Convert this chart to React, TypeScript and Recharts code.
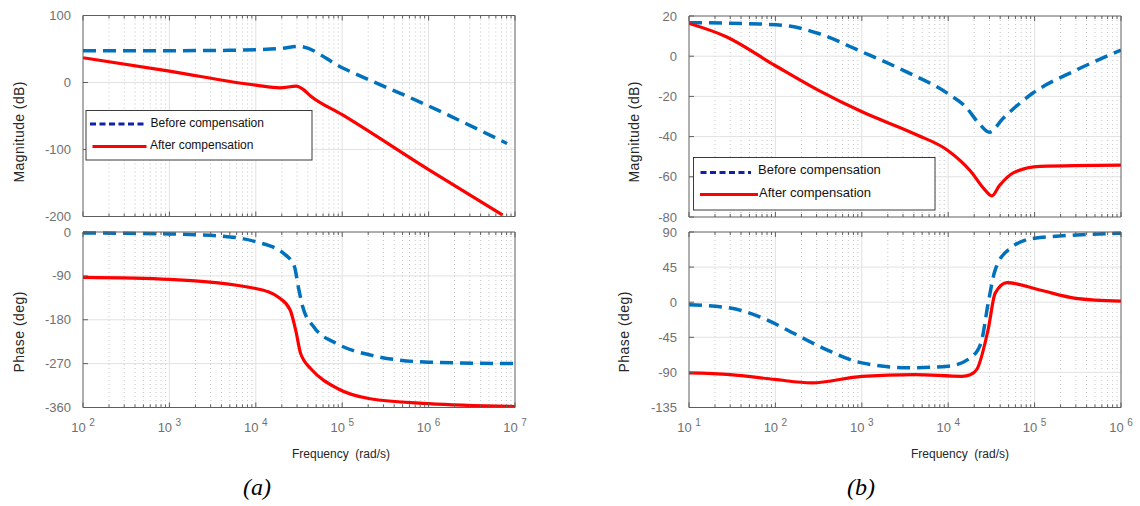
import React from "react";
import { LineChart, Line, XAxis, YAxis, CartesianGrid } from "recharts";

const W = 1140;
const H = 506;

const BLUE = "#0072BD";
const RED = "#FF0000";
const NAVY = "#1020a8";
const AXIS = "#5e5e5e";
const TICK_TEXT = "#707070";
const FONT = "'Liberation Sans', Arial, sans-serif";

// ---------- (a) ----------
const aMagBeforeFreq = [1e2, 1e3, 5e3, 1e4, 2e4, 3.1e4, 1e5, 1e6, 8.1e6];
const aMagBefore = [47.5, 47.5, 48, 49, 51, 54, 22, -35, -91];
const aMagAfterFreq = [1e2, 1e3, 1e4, 1.9e4, 2.95e4, 3.5e4, 4.3e4, 1e5, 1e6, 7.2e6];
const aMagAfter = [37, 17, -4, -8, -5.5, -10, -20, -48, -130, -198];

const aPhBeforeFreq = [1e2, 1e3, 3.8e3, 1e4, 2.1e4, 2.8e4, 3.1e4, 3.5e4, 4.7e4, 8.7e4, 2.2e5, 1e6, 1e7];
const aPhBefore = [-2, -4, -8, -20, -44, -71, -112, -154, -195, -229, -253, -267, -270];
const aPhAfterFreq = [1e2, 1e3, 1e4, 1.9e4, 2.5e4, 2.9e4, 3.3e4, 3.6e4, 4.3e4, 8.8e4, 2.1e5, 1e6, 1e7];
const aPhAfter = [-93, -97, -116, -136, -160, -202, -249, -263, -280, -321, -342, -352, -358];

const aMagTicks = [-200, -100, 0, 100];
const aPhTicks = [-360, -270, -180, -90, 0];

// ---------- (b) ----------
const bMagBeforeFreq = [10, 66, 145, 316, 1000, 3300, 1e4, 1.6e4, 2.3e4, 3e4, 4.3e4, 9.3e4, 3e5, 1e6];
const bMagBefore = [16.7, 16, 15, 11.3, 2.2, -7.8, -18.7, -25.3, -33.7, -37.8, -31, -18.7, -7, 3];
const bMagAfterFreq = [10, 27, 98, 316, 1020, 4100, 1e4, 1.8e4, 2.6e4, 3.2e4, 3.9e4, 5.8e4, 1.15e5, 1e6];
const bMagAfter = [16.3, 9.7, -4.5, -17, -27.8, -38.7, -47, -57, -66, -69.5, -64.5, -57.8, -54.8, -54.2];

const bPhBeforeFreq = [10, 30, 79, 174, 389, 1000, 3600, 1e4, 1.8e4, 2.4e4, 2.9e4, 3.5e4, 5.2e4, 1e5, 1e6];
const bPhBefore = [-3.3, -7.5, -22.5, -41.6, -60.8, -77.8, -84, -82, -71.4, -52, -1.3, 41.4, 69, 82, 88.3];
const bPhAfterFreq = [10, 30, 98, 263, 1000, 4100, 1.45e4, 1.8e4, 2.15e4, 2.9e4, 3.5e4, 4.8e4, 1.15e5, 3e5, 1e6];
const bPhAfter = [-90.6, -92.8, -99, -103.4, -95, -92.8, -95, -93, -86, -35, 11.6, 25, 15.6, 5, 1.4];

const bMagTicks = [-80, -60, -40, -20, 0, 20];
const bPhTicks = [-135, -90, -45, 0, 45, 90];

type Pt = { f: number; v: number };
const zip = (f: number[], v: number[]): Pt[] => f.map((x, i) => ({ f: x, v: v[i] }));

interface Rect { left: number; right: number; top: number; bottom: number }

function decades(lo: number, hi: number) {
  const major: number[] = [];
  const minor: number[] = [];
  for (let e = lo; e <= hi; e++) {
    major.push(10 ** e);
    if (e < hi) for (let m = 2; m <= 9; m++) minor.push(m * 10 ** e);
  }
  return { major, minor };
}

function XTick(props: any) {
  const { x, y, payload, side, labels } = props;
  const v = payload.value as number;
  const e = Math.round(Math.log10(v));
  const isMajor = Math.abs(v - 10 ** e) < 1e-6 * v;
  const len = isMajor ? 5 : 3;
  const dir = side === "top" ? 1 : -1;
  return (
    <g>
      <line x1={x} x2={x} y1={y} y2={y + dir * len} stroke={AXIS} strokeWidth={1} />
      {labels && isMajor && (
        <text x={x} y={y + 24.5} textAnchor="middle" fill={TICK_TEXT} fontSize={13} fontFamily={FONT}>
          10<tspan dx={3.5} dy={-6} fontSize={10}>{e}</tspan>
        </text>
      )}
    </g>
  );
}

function YTick(props: any) {
  const { x, y, payload, side } = props;
  const dir = side === "right" ? -1 : 1;
  return (
    <g>
      <line x1={x} x2={x + dir * 5} y1={y} y2={y} stroke={AXIS} strokeWidth={1} />
      {side === "left" && (
        <text x={x - 12} y={y + 4.5} textAnchor="end" fill={TICK_TEXT} fontSize={13} fontFamily={FONT}>
          {payload.value}
        </text>
      )}
    </g>
  );
}

interface Series { data: Pt[]; color: string; width: number; dash?: string }

function BodePlot({ rect, xExp, yTicks, series, xLabels }: {
  rect: Rect; xExp: [number, number]; yTicks: number[]; series: Series[]; xLabels: boolean;
}) {
  const { major, minor } = decades(xExp[0], xExp[1]);
  const yMin = yTicks[0];
  const yMax = yTicks[yTicks.length - 1];
  const xPx = (v: number) =>
    rect.left + ((Math.log10(v) - xExp[0]) / (xExp[1] - xExp[0])) * (rect.right - rect.left);
  const yPx = (v: number) => rect.top + ((yMax - v) / (yMax - yMin)) * (rect.bottom - rect.top);
  const xDomain = [10 ** xExp[0], 10 ** xExp[1]];
  const xTicks = [...major, ...minor];

  // the axes take 1px each, so the margins leave room for them
  return (
    <div style={{ position: "absolute", left: 0, top: 0 }}>
      <LineChart
        width={W}
        height={H}
        margin={{ top: rect.top - 1, left: rect.left - 1, right: W - rect.right - 1, bottom: H - rect.bottom - 1 }}
      >
        <CartesianGrid xAxisId="b" yAxisId="l" horizontal={false} verticalPoints={minor.map(xPx)}
          stroke="#c6c6c6" strokeDasharray="1 3" />
        <CartesianGrid xAxisId="b" yAxisId="l" verticalPoints={major.slice(1, -1).map(xPx)}
          horizontalPoints={yTicks.slice(1, -1).map(yPx)} stroke="#e2e2e2" />
        <XAxis xAxisId="b" dataKey="f" type="number" scale="log" domain={xDomain} allowDataOverflow
          ticks={xTicks} interval={0} height={1} tickSize={0} tickMargin={0} tickLine={false}
          stroke={AXIS} tick={(p: any) => <XTick {...p} side="bottom" labels={xLabels} />} />
        <XAxis xAxisId="t" orientation="top" dataKey="f" type="number" scale="log" domain={xDomain}
          allowDataOverflow ticks={xTicks} interval={0} height={1} tickSize={0} tickMargin={0}
          tickLine={false} stroke={AXIS} tick={(p: any) => <XTick {...p} side="top" labels={false} />} />
        <YAxis yAxisId="l" type="number" domain={[yMin, yMax]} ticks={yTicks} interval={0} width={1}
          tickSize={0} tickMargin={0} tickLine={false} stroke={AXIS}
          tick={(p: any) => <YTick {...p} side="left" />} />
        <YAxis yAxisId="r" orientation="right" type="number" domain={[yMin, yMax]} ticks={yTicks}
          interval={0} width={1} tickSize={0} tickMargin={0} tickLine={false} stroke={AXIS}
          tick={(p: any) => <YTick {...p} side="right" />} />
        {series.map((s, i) => (
          <Line key={i} xAxisId="b" yAxisId="l" data={s.data} dataKey="v" type="monotone"
            stroke={s.color} strokeWidth={s.width} strokeDasharray={s.dash} dot={false}
            activeDot={false} isAnimationActive={false} />
        ))}
      </LineChart>
    </div>
  );
}

function LegendBox({ x, y, w, h, fs, l1, l2, t1, t2 }: {
  x: number; y: number; w: number; h: number; fs: number;
  l1: [number, number, number]; l2: [number, number, number];
  t1: [number, number]; t2: [number, number];
}) {
  return (
    <g>
      <rect x={x} y={y} width={w} height={h} fill="#fff" stroke="#3a3a3a" strokeWidth={1} />
      <line x1={l1[0]} x2={l1[1]} y1={l1[2]} y2={l1[2]} stroke={NAVY} strokeWidth={3} strokeDasharray="6 3.5" />
      <line x1={l2[0]} x2={l2[1]} y1={l2[2]} y2={l2[2]} stroke={RED} strokeWidth={3} />
      <text x={t1[0]} y={t1[1]} fontSize={fs} fontFamily={FONT} fill="#111">Before compensation</text>
      <text x={t2[0]} y={t2[1]} fontSize={fs} fontFamily={FONT} fill="#111">After compensation</text>
    </g>
  );
}

function VLabel({ x, y, text, len }: { x: number; y: number; text: string; len: number }) {
  return (
    <text x={x} y={y} transform={`rotate(-90 ${x} ${y})`} textAnchor="middle" dominantBaseline="central"
      fontSize={14} fontFamily={FONT} fill="#262626" textLength={len}>
      {text}
    </text>
  );
}

export default function App() {
  const aMagRect = { left: 83, right: 515, top: 15.5, bottom: 216.5 };
  const aPhRect = { left: 83, right: 515, top: 232, bottom: 407.5 };
  const bMagRect = { left: 689, right: 1121, top: 16, bottom: 217 };
  const bPhRect = { left: 689, right: 1121, top: 232, bottom: 407.5 };

  const before = (d: Pt[]): Series => ({ data: d, color: BLUE, width: 3.5, dash: "13 7" });
  const after = (d: Pt[]): Series => ({ data: d, color: RED, width: 3.2 });

  return (
    <div style={{ position: "absolute", left: 0, top: 0, width: W, height: H, background: "#fff" }}>
      <BodePlot rect={aMagRect} xExp={[2, 7]} yTicks={aMagTicks} xLabels={false}
        series={[before(zip(aMagBeforeFreq, aMagBefore)), after(zip(aMagAfterFreq, aMagAfter))]} />
      <BodePlot rect={aPhRect} xExp={[2, 7]} yTicks={aPhTicks} xLabels
        series={[before(zip(aPhBeforeFreq, aPhBefore)), after(zip(aPhAfterFreq, aPhAfter))]} />
      <BodePlot rect={bMagRect} xExp={[1, 6]} yTicks={bMagTicks} xLabels={false}
        series={[before(zip(bMagBeforeFreq, bMagBefore)), after(zip(bMagAfterFreq, bMagAfter))]} />
      <BodePlot rect={bPhRect} xExp={[1, 6]} yTicks={bPhTicks} xLabels
        series={[before(zip(bPhBeforeFreq, bPhBefore)), after(zip(bPhAfterFreq, bPhAfter))]} />

      <svg width={W} height={H} style={{ position: "absolute", left: 0, top: 0, pointerEvents: "none" }}>
        <LegendBox x={86} y={110.5} w={226} h={49.5} fs={12}
          l1={[90, 146.5, 124]} l2={[92.5, 146.5, 146.5]} t1={[150.5, 126.5]} t2={[150, 148.5]} />
        <LegendBox x={693.5} y={157.5} w={241.5} h={52.5} fs={13}
          l1={[700.5, 751, 172.5]} l2={[700, 758, 194.5]} t1={[758, 173.5]} t2={[759, 197]} />

        <VLabel x={19} y={132} text="Magnitude (dB)" len={101} />
        <VLabel x={19} y={332} text="Phase (deg)" len={81} />
        <VLabel x={634} y={132} text="Magnitude (dB)" len={101} />
        <VLabel x={624} y={332} text="Phase (deg)" len={81} />

        <text x={341} y={458} textAnchor="middle" fontSize={12} fontFamily={FONT} fill="#262626">
          Frequency{"\u00a0\u00a0"}(rad/s)
        </text>
        <text x={960} y={458} textAnchor="middle" fontSize={12} fontFamily={FONT} fill="#262626">
          Frequency{"\u00a0\u00a0"}(rad/s)
        </text>

        <text x={257} y={495} textAnchor="middle" fontSize={24} fontFamily="'Liberation Serif', 'Times New Roman', serif" fontStyle="italic" fill="#000">
          (a)
        </text>
        <text x={861} y={495} textAnchor="middle" fontSize={24} fontFamily="'Liberation Serif', 'Times New Roman', serif" fontStyle="italic" fill="#000">
          (b)
        </text>
      </svg>
    </div>
  );
}
